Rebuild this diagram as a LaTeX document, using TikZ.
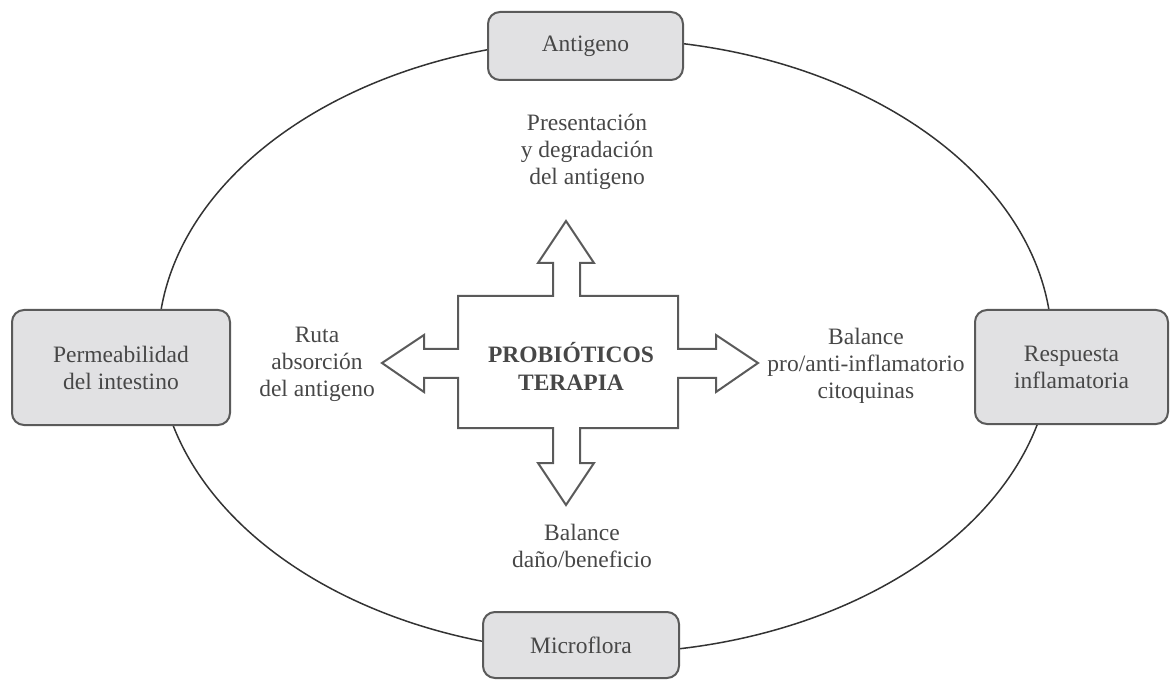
\documentclass[tikz,border=0pt]{standalone}
\usepackage{fontspec}
\IfFontExistsTF{LiberationSerif-Regular.ttf}
  {\setmainfont{LiberationSerif}[Extension=.ttf, UprightFont=*-Regular,
     BoldFont=*-Bold, ItalicFont=*-Italic, BoldItalicFont=*-BoldItalic]}
  {\setmainfont{Liberation Serif}}
\usepackage{tikz}

\definecolor{txtgray}{HTML}{474747}
\definecolor{boxfill}{HTML}{E1E1E3}
\definecolor{boxline}{HTML}{5A5A5A}

\tikzset{
  caja/.style={draw=boxline, fill=boxfill, line width=2pt, rounded corners=12pt,
    align=center, text=txtgray, inner sep=0pt},
  etiqueta/.style={align=center, text=txtgray, inner sep=0pt}
}

\begin{document}
\begin{tikzpicture}[x=1pt,y=-1pt,font=\fontsize{23.5}{27}\selectfont]
\useasboundingbox (0,0) rectangle (1175,684);

% ellipse behind the boxes
\draw[line width=1.5pt, color=black!80] (605,346) ellipse (447 and 307);

% cross with four arrows
\draw[line width=2pt, color=boxline, fill=white]
  (458,296) -- (553,296) -- (553,263) -- (538,263) -- (566,221) -- (594,263)
  -- (580,263) -- (580,296) -- (678,296) -- (678,349) -- (716,349) -- (716,335)
  -- (758,363) -- (716,392) -- (716,378) -- (678,378) -- (678,428) -- (580,428)
  -- (580,463) -- (594,463) -- (566,505) -- (538,463) -- (553,463) -- (553,428)
  -- (458,428) -- (458,378) -- (424,378) -- (424,392) -- (382,363) -- (424,335)
  -- (424,349) -- (458,349) -- cycle;

\node[etiqueta, font=\fontsize{23.5}{28}\selectfont\bfseries] (terapia) at (571,366) {PROBIÓTICOS\\TERAPIA};

\node[caja, minimum width=195, minimum height=68] (antigeno) at (585.5,46) {Antigeno};
\node[caja, minimum width=218, minimum height=115] (permeab) at (121,367.5) {Permeabilidad\\del intestino};
\node[caja, minimum width=193, minimum height=114] (respuesta) at (1071.5,367) {Respuesta\\inflamatoria};
\node[caja, minimum width=196, minimum height=66] (microflora) at (581,645) {Microflora};

\node[etiqueta] (presentacion) at (587,152) {Presentación\\y degradación\\del antigeno};
\node[etiqueta] (ruta) at (317,364) {Ruta\\absorción\\del antigeno};
\node[etiqueta] (citoquinas) at (866,366) {Balance\\pro/anti-inflamatorio\\citoquinas};
\node[etiqueta] (dano) at (582,546) {Balance\\daño/beneficio};
\end{tikzpicture}
\end{document}
